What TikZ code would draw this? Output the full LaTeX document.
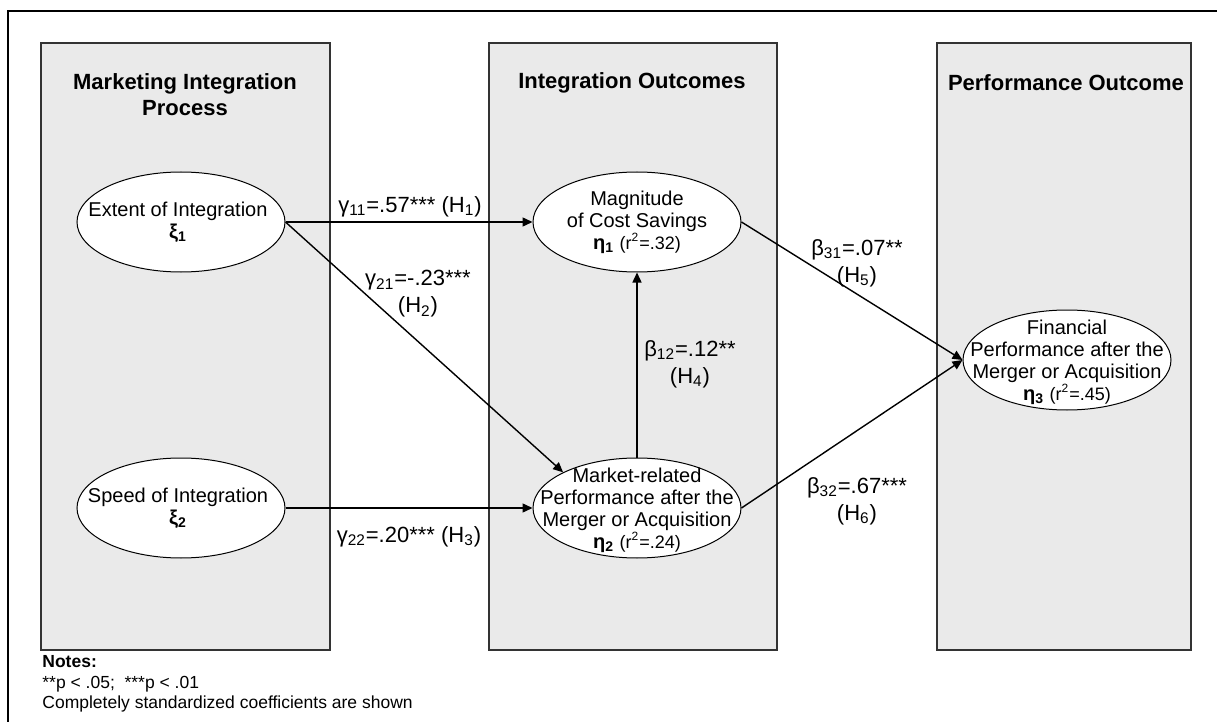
\documentclass[tikz,border=0pt]{standalone}
\usepackage{fontspec}
\setmainfont{Liberation Sans}
\usetikzlibrary{shapes.geometric,arrows.meta}
\definecolor{panelgray}{RGB}{234,234,234}
\tikzset{
  panel/.style={draw=black!80,fill=panelgray,line width=.6pt},
  latent/.style={ellipse,draw,fill=white,line width=.5pt,minimum width=104pt,minimum height=50pt,inner sep=0pt},
  inner/.style={align=center,inner sep=0pt,font=\fontsize{10}{11}\selectfont},
  heading/.style={align=center,font=\fontsize{11}{13}\selectfont\bfseries},
  coef/.style={align=center,inner sep=1pt,font=\fontsize{11}{13.5}\selectfont},
  link/.style={-{Triangle[length=5pt,width=4.5pt]},line width=.7pt},
}
\newcommand{\rsq}[1]{{\fontsize{9}{11}\selectfont(r\textsuperscript{2}=#1)}}

\begin{document}
\begin{tikzpicture}[x=.5pt,y=-.5pt]
\useasboundingbox (0,0) rectangle (1217,722);
% frame
\draw[line width=.6pt] (8,722)--(8,11)--(1217,11);
% panels
\draw[panel] (41,43) rectangle (330,650);
\draw[panel] (489,43) rectangle (777,650);
\draw[panel] (937,43) rectangle (1191,650);
\node[heading] (ttlprocess) at (185,95) {Marketing Integration\\Process};
\node[heading] (ttlintegr) at (632,83) {Integration Outcomes};
\node[heading] (ttlperform) at (1066,83) {Performance Outcome};
% constructs
\node[latent] (extent) at (181,222) {};
\node[latent] (speed) at (181,508) {};
\node[latent] (magnitude) at (637,222) {};
\node[latent] (market) at (637,508) {};
\node[latent] (financial) at (1067,360) {};
\node[inner] (extentlbl) at ([xshift=-1.5pt]extent) {Extent of Integration\\\textbf{ξ\textsubscript{1}}};
\node[inner] (speedlbl) at ([xshift=-1.5pt]speed) {Speed of Integration\\\textbf{ξ\textsubscript{2}}};
\node[inner] (magnitudelbl) at (magnitude) {Magnitude\\of Cost Savings\\\textbf{η\textsubscript{1}} \rsq{.32}};
\node[inner] (marketlbl) at ([yshift=-1pt]market) {Market-related\\Performance after the\\Merger or Acquisition\\\textbf{η\textsubscript{2}} \rsq{.24}};
\node[inner] (financiallbl) at ([yshift=-1pt]financial) {Financial\\Performance after the\\Merger or Acquisition\\\textbf{η\textsubscript{3}} \rsq{.45}};
% paths
\draw[link] (extent.east)--(magnitude.west);
\draw[link] (extent.east)--(market.north west);
\draw[link] (speed.east)--(market.west);
\draw[link] (market.north)--(magnitude.south);
\draw[link] (magnitude.east)--(financial.west);
\draw[link] (market.east)--(financial.west);
% coefficients
\node[coef] (g11) at (410,207) {γ\textsubscript{11}=.57*** (H\textsubscript{1})};
\node[coef] (g21) at (418,294) {γ\textsubscript{21}=-.23***\\(H\textsubscript{2})};
\node[coef] (g22) at (409,537) {γ\textsubscript{22}=.20*** (H\textsubscript{3})};
\node[coef] (b12) at (690,364) {β\textsubscript{12}=.12**\\(H\textsubscript{4})};
\node[coef] (b31) at (857,263) {β\textsubscript{31}=.07**\\(H\textsubscript{5})};
\node[coef] (b32) at (857,501) {β\textsubscript{32}=.67***\\(H\textsubscript{6})};
% notes
\node[anchor=north west,align=left,inner sep=0pt,font=\fontsize{8.75}{10.3}\selectfont] (notes) at (42,655)
  {\textbf{Notes:}\\**p < .05;\ \ ***p < .01\\Completely standardized coefficients are shown};
\end{tikzpicture}
\end{document}
